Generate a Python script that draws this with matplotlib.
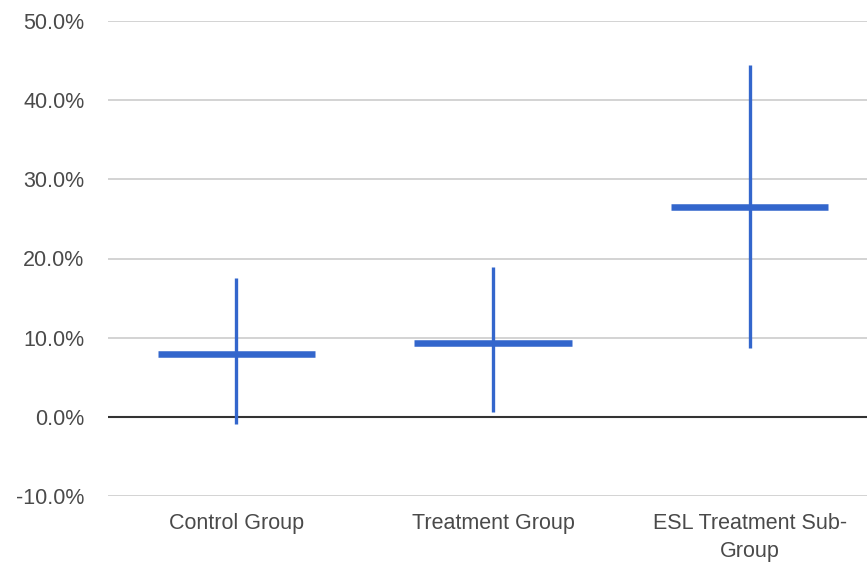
import matplotlib
matplotlib.use("Agg")
import matplotlib.pyplot as plt
from matplotlib.ticker import FuncFormatter

categories = ["Control Group", "Treatment Group", "ESL Treatment Sub-\nGroup"]
means = [8.0, 9.35, 26.45]
lows = [-0.9, 0.65, 8.7]
highs = [17.6, 18.9, 44.5]
yticks = [-10, 0, 10, 20, 30, 40, 50]

plt.rcParams['font.family'] = ['Liberation Sans', 'DejaVu Sans']

fig = plt.figure(figsize=(8.67, 5.65), dpi=100)
ax = fig.add_axes([108/867, 69/565, 770/867, 475/565])

color = "#3366CC"
x = list(range(len(categories)))
half = 0.306
ax.vlines(x, lows, highs, color=color, linewidth=2.4, zorder=3)
ax.hlines(means, [i - half for i in x], [i + half for i in x], color=color, linewidth=4.7, zorder=4)

ax.set_xlim(-0.5, len(categories) - 0.5)
ax.set_ylim(-10, 50)
ax.set_yticks(yticks)
ax.yaxis.set_major_formatter(FuncFormatter(lambda v, p: f"{v:.1f}%"))
ax.set_xticks(x)
ax.set_xticklabels(categories)
for v in yticks:
    if v == 0:
        ax.axhline(v, color="#333333", linewidth=1.5, zorder=2)
    else:
        ax.axhline(v, color="#cccccc", linewidth=1.2, zorder=1)

for s in ax.spines.values():
    s.set_visible(False)
ax.tick_params(axis='both', length=0, labelsize=15.5, colors="#4a4a4a")
ax.tick_params(axis='y', pad=17)
ax.tick_params(axis='x', pad=12)
for lbl in ax.get_xticklabels():
    lbl.set_linespacing(1.45)

fig.savefig("out.png", dpi=100)
